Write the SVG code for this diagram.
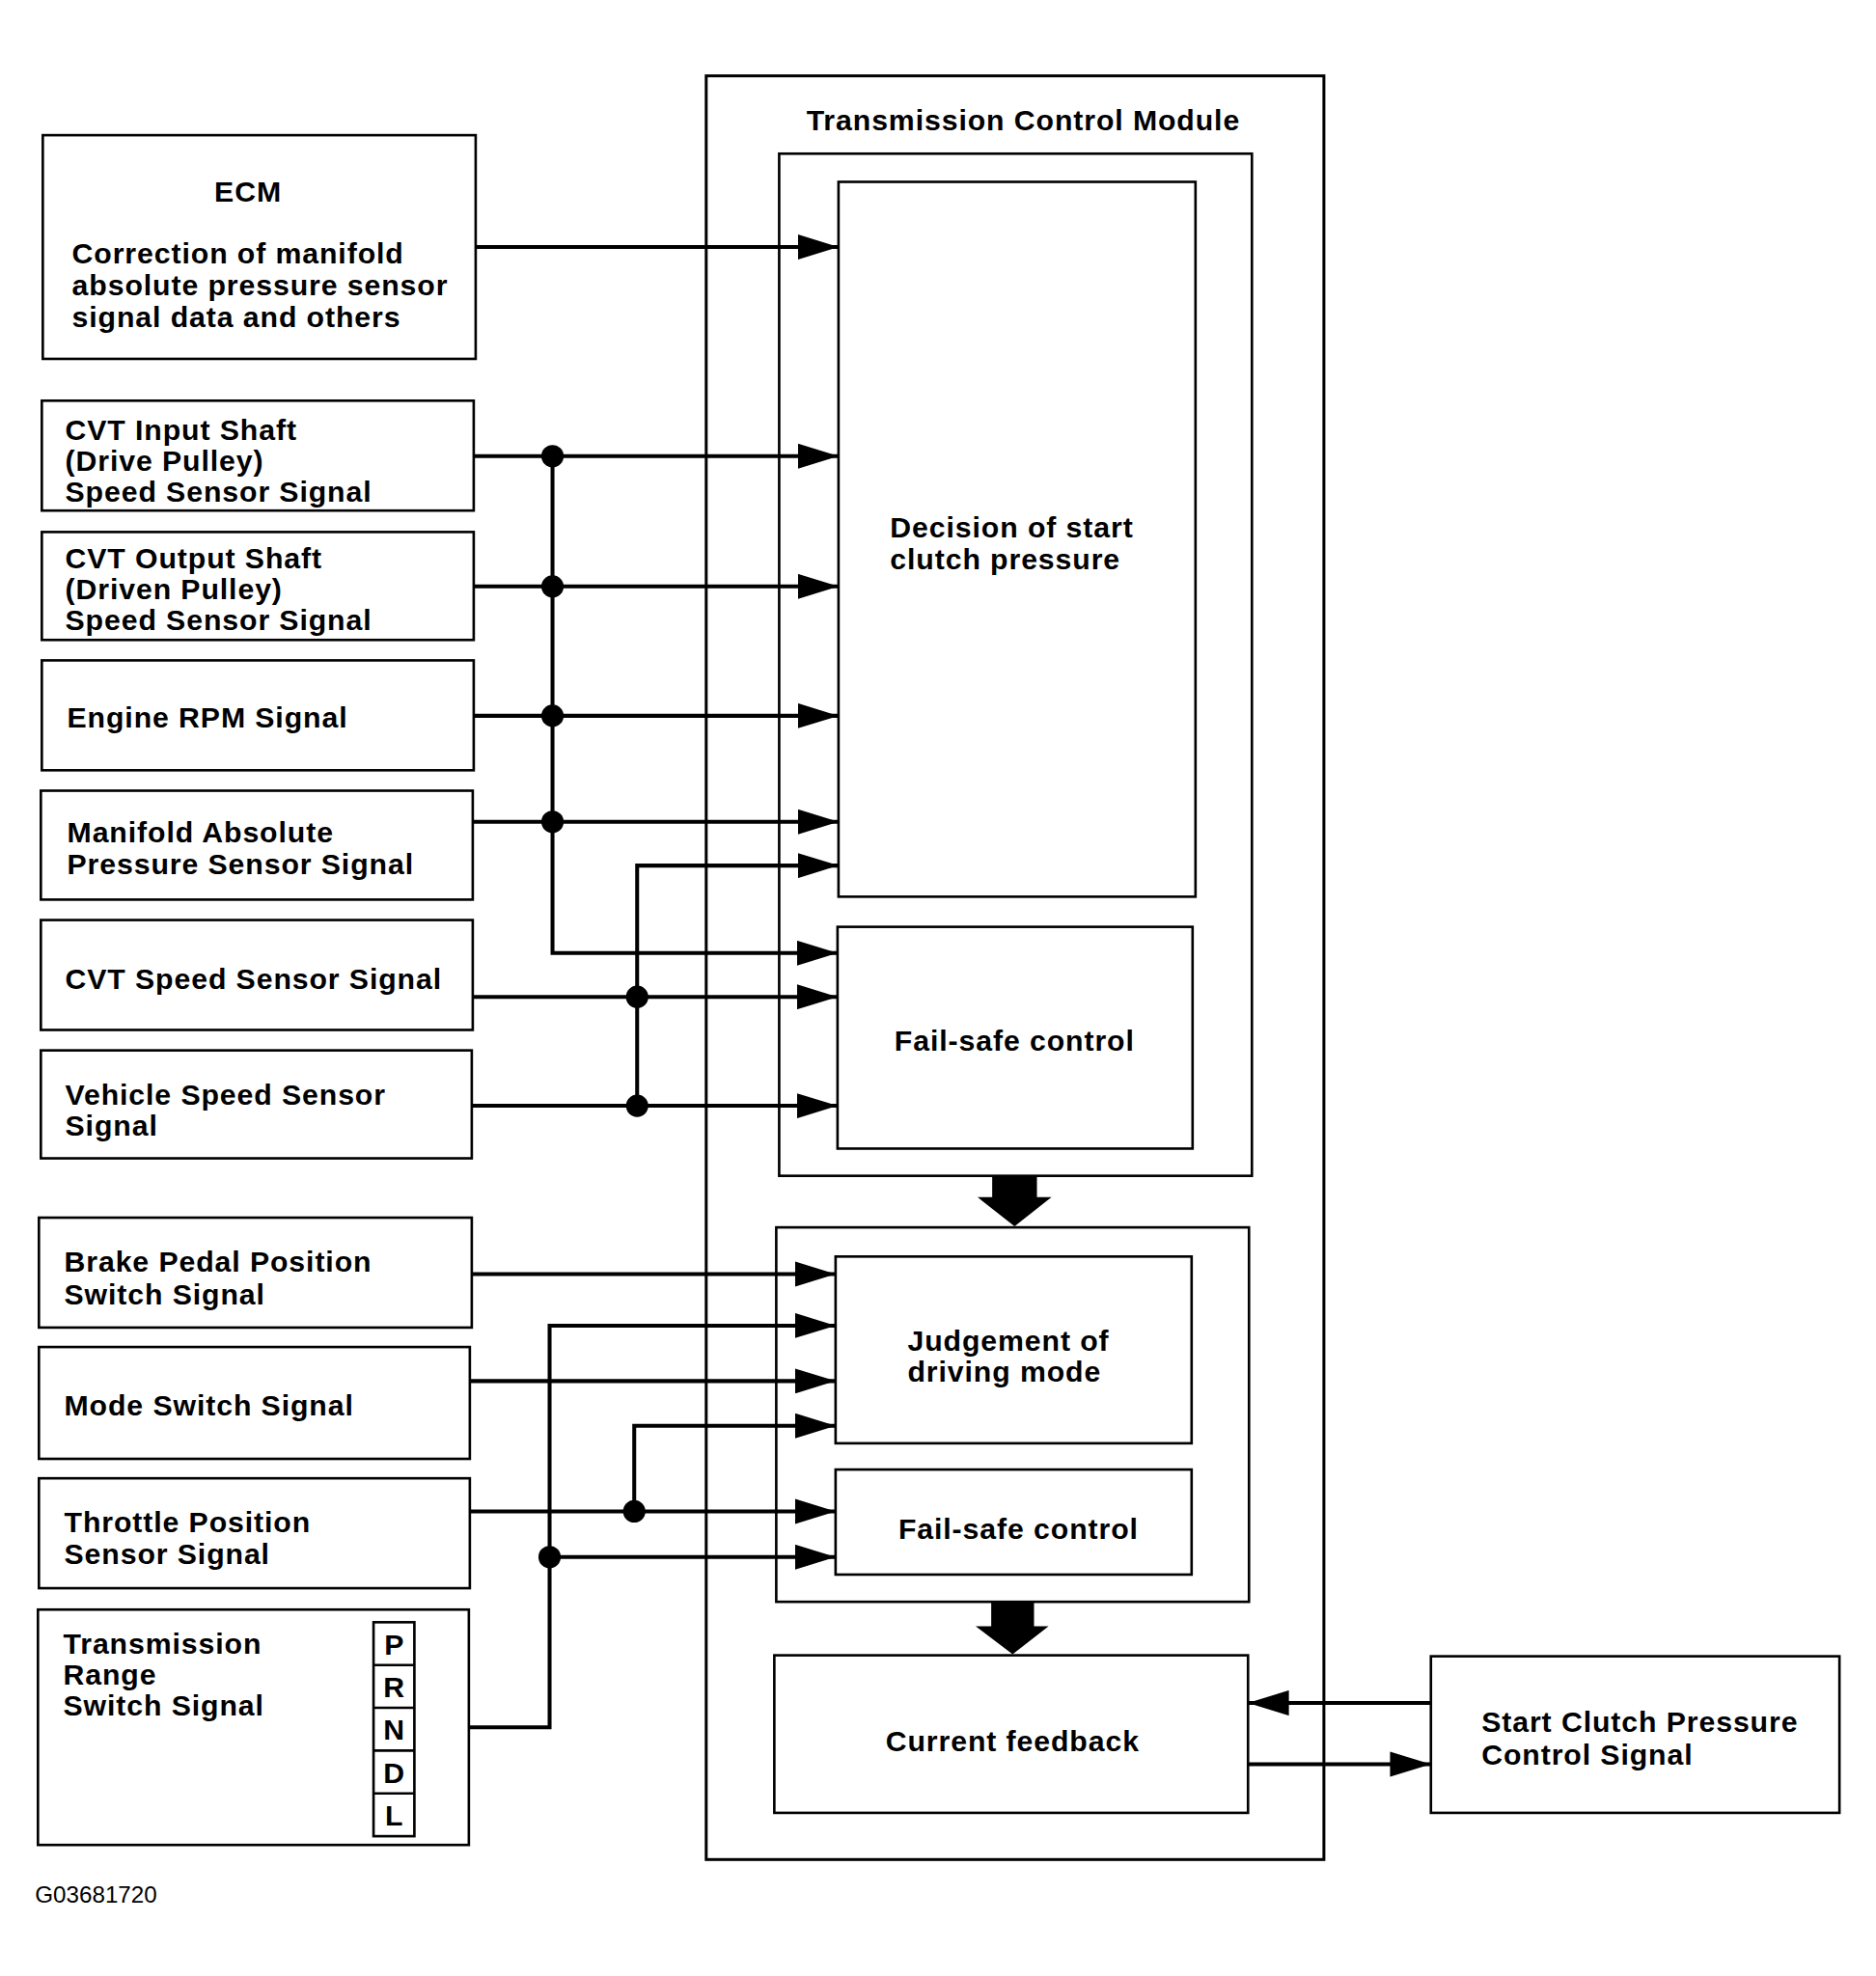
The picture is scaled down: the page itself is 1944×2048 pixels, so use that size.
<svg xmlns="http://www.w3.org/2000/svg" width="1944" height="2048" viewBox="0 0 1944 2048">
<style>
.box{fill:none;stroke:#000;stroke-width:2.6}
.outer{fill:none;stroke:#000;stroke-width:3}
.t{font-family:"Liberation Sans",Arial,sans-serif;font-weight:bold;font-size:30px;letter-spacing:0.9px;fill:#000}
.c{text-anchor:middle}
.a{fill:none;stroke:#000;stroke-width:4;marker-end:url(#ah)}
.dot{fill:#000}
.big{fill:#000}
.foot{font-family:"Liberation Sans",Arial,sans-serif;font-size:24px;fill:#000}
.pr{font-family:"Liberation Sans",Arial,sans-serif;font-weight:bold;font-size:30px;fill:#000;text-anchor:middle}
</style>
<defs>
<marker id="ah" markerUnits="userSpaceOnUse" markerWidth="42" markerHeight="26" refX="42" refY="13" orient="auto">
<path d="M0,0 L42,13 L0,26 z" fill="#000"/>
</marker>
</defs>
<rect width="1944" height="2048" fill="#fff"/>
<g transform="scale(1.008)">
<g id="tcm">
<rect class="outer" x="726" y="78" width="635" height="1834"/>
<text class="t c" x="1052" y="134">Transmission Control Module</text>
</g>
<g id="upper-group"><rect class="box" x="801" y="158" width="486" height="1051"/></g>
<g id="decision">
<rect class="box" x="862" y="187" width="367" height="735"/>
<text class="t" x="915" y="553">Decision of start</text>
<text class="t" x="915" y="585">clutch pressure</text>
</g>
<g id="failsafe1">
<rect class="box" x="861" y="953" width="365" height="228"/>
<text class="t c" x="1043" y="1080">Fail-safe control</text>
</g>
<g id="lower-group"><rect class="box" x="798" y="1262" width="486" height="385"/></g>
<g id="judgement">
<rect class="box" x="859" y="1292" width="366" height="192"/>
<text class="t" x="933" y="1389">Judgement of</text>
<text class="t" x="933" y="1421">driving mode</text>
</g>
<g id="failsafe2">
<rect class="box" x="859" y="1511" width="366" height="108"/>
<text class="t c" x="1047" y="1582">Fail-safe control</text>
</g>
<g id="current-feedback">
<rect class="box" x="796" y="1702" width="487" height="162"/>
<text class="t c" x="1041" y="1801">Current feedback</text>
</g>
<g id="start-clutch">
<rect class="box" x="1471" y="1703" width="420" height="161"/>
<text class="t" x="1523" y="1781">Start Clutch Pressure</text>
<text class="t" x="1523" y="1814">Control Signal</text>
</g>

<g id="ecm">
<rect class="box" x="44" y="139" width="445" height="230"/>
<text class="t c" x="255" y="207">ECM</text>
<text class="t" x="74" y="271">Correction of manifold</text>
<text class="t" x="74" y="304">absolute pressure sensor</text>
<text class="t" x="74" y="336">signal data and others</text>
</g>
<g id="cvt-input">
<rect class="box" x="43" y="412" width="444" height="113"/>
<text class="t" x="67" y="452">CVT Input Shaft</text>
<text class="t" x="67" y="484">(Drive Pulley)</text>
<text class="t" x="67" y="516">Speed Sensor Signal</text>
</g>
<g id="cvt-output">
<rect class="box" x="43" y="547" width="444" height="111"/>
<text class="t" x="67" y="584">CVT Output Shaft</text>
<text class="t" x="67" y="616">(Driven Pulley)</text>
<text class="t" x="67" y="648">Speed Sensor Signal</text>
</g>
<g id="engine-rpm">
<rect class="box" x="43" y="679" width="444" height="113"/>
<text class="t" x="69" y="748">Engine RPM Signal</text>
</g>
<g id="map-sensor">
<rect class="box" x="42" y="813" width="444" height="112"/>
<text class="t" x="69" y="866">Manifold Absolute</text>
<text class="t" x="69" y="899">Pressure Sensor Signal</text>
</g>
<g id="cvt-speed">
<rect class="box" x="42" y="946" width="444" height="113"/>
<text class="t" x="67" y="1017">CVT Speed Sensor Signal</text>
</g>
<g id="vehicle-speed">
<rect class="box" x="42" y="1080" width="443" height="111"/>
<text class="t" x="67" y="1136">Vehicle Speed Sensor</text>
<text class="t" x="67" y="1168">Signal</text>
</g>
<g id="brake">
<rect class="box" x="40" y="1252" width="445" height="113"/>
<text class="t" x="66" y="1308">Brake Pedal Position</text>
<text class="t" x="66" y="1341">Switch Signal</text>
</g>
<g id="mode-switch">
<rect class="box" x="40" y="1385" width="443" height="115"/>
<text class="t" x="66" y="1455">Mode Switch Signal</text>
</g>
<g id="throttle">
<rect class="box" x="40" y="1520" width="443" height="113"/>
<text class="t" x="66" y="1575">Throttle Position</text>
<text class="t" x="66" y="1608">Sensor Signal</text>
</g>
<g id="trans-range">
<rect class="box" x="39" y="1655" width="443" height="242"/>
<text class="t" x="65" y="1700">Transmission</text>
<text class="t" x="65" y="1732">Range</text>
<text class="t" x="65" y="1764">Switch Signal</text>
<rect class="box" x="384" y="1668" width="42" height="220"/>
<line class="box" x1="384" y1="1712" x2="426" y2="1712"/>
<line class="box" x1="384" y1="1756" x2="426" y2="1756"/>
<line class="box" x1="384" y1="1800" x2="426" y2="1800"/>
<line class="box" x1="384" y1="1844" x2="426" y2="1844"/>
<text class="pr" x="405" y="1701">P</text>
<text class="pr" x="405" y="1745">R</text>
<text class="pr" x="405" y="1789">N</text>
<text class="pr" x="405" y="1833">D</text>
<text class="pr" x="405" y="1877">L</text>
</g>

<g id="connectors">
<line class="a" x1="489" y1="254" x2="862" y2="254"/>
<line class="a" x1="487" y1="469" x2="862" y2="469"/>
<line class="a" x1="487" y1="603" x2="862" y2="603"/>
<line class="a" x1="487" y1="736" x2="862" y2="736"/>
<line class="a" x1="486" y1="845" x2="862" y2="845"/>
<polyline class="a" points="568,469 568,980 861,980"/>
<polyline class="a" points="655,1137 655,890 862,890"/>
<line class="a" x1="486" y1="1025" x2="861" y2="1025"/>
<line class="a" x1="485" y1="1137" x2="861" y2="1137"/>
<circle class="dot" cx="568" cy="469" r="11.5"/>
<circle class="dot" cx="568" cy="603" r="11.5"/>
<circle class="dot" cx="568" cy="736" r="11.5"/>
<circle class="dot" cx="568" cy="845" r="11.5"/>
<circle class="dot" cx="655" cy="1025" r="11.5"/>
<circle class="dot" cx="655" cy="1137" r="11.5"/>

<line class="a" x1="485" y1="1310" x2="859" y2="1310"/>
<polyline class="a" points="482,1776 565,1776 565,1363 859,1363"/>
<line class="a" x1="483" y1="1420" x2="859" y2="1420"/>
<polyline class="a" points="652,1554 652,1466 859,1466"/>
<line class="a" x1="483" y1="1554" x2="859" y2="1554"/>
<line class="a" x1="565" y1="1601" x2="859" y2="1601"/>
<circle class="dot" cx="652" cy="1554" r="11.5"/>
<circle class="dot" cx="565" cy="1601" r="11.5"/>

<polygon class="big" points="1020,1209 1066,1209 1066,1231 1081,1231 1043,1261 1005,1231 1020,1231"/>
<polygon class="big" points="1019,1647 1063,1647 1063,1672 1078,1672 1041,1701 1003,1672 1019,1672"/>

<line class="a" x1="1471" y1="1751" x2="1283" y2="1751"/>
<line class="a" x1="1283" y1="1814" x2="1471" y2="1814"/>
</g>

<text class="foot" x="36" y="1956">G03681720</text>
</g>
</svg>
